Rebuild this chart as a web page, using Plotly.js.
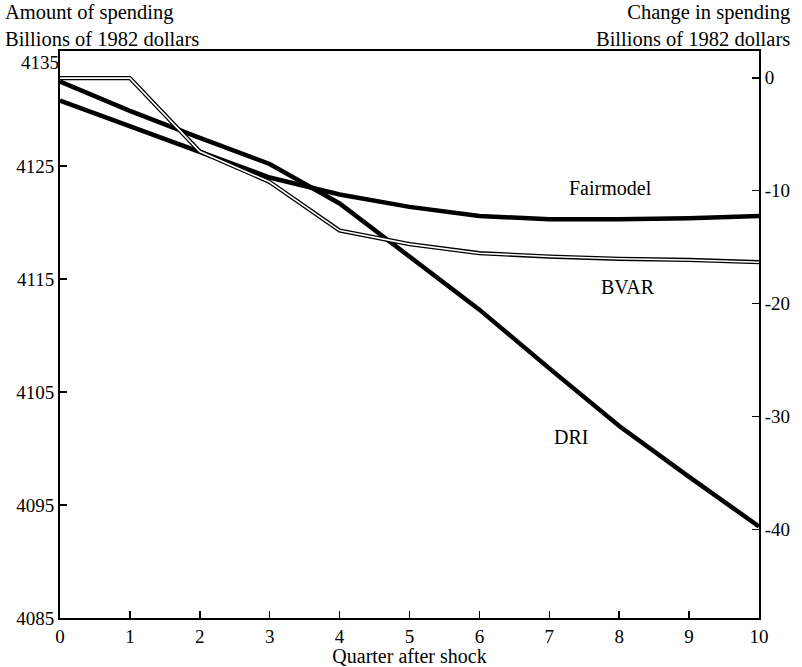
<!DOCTYPE html>
<html>
<head>
<meta charset="utf-8">
<script src="https://cdn.plot.ly/plotly-3.0.1.min.js"></script>
<style>html,body{margin:0;padding:0;background:#fff;}#chart{width:802px;height:667px;}</style>
</head>
<body>
<div id="chart"></div>
<script>
const quarters = [0,1,2,3,4,5,6,7,8,9,10];
const fairmodel = [4130.8,4128.5,4126.2,4124.0,4122.5,4121.4,4120.6,4120.3,4120.3,4120.4,4120.6];
const bvar = [4132.8,4132.8,4126.3,4123.6,4119.3,4118.1,4117.3,4117.0,4116.8,4116.7,4116.5];
const dri = [4132.5,4129.9,4127.5,4125.2,4121.7,4117.0,4112.3,4107.1,4102.0,4097.5,4093.1];
const leftTicks = [4085,4095,4105,4115,4125];
const leftTopTick = [4135];
const rightTicks = [0,-10,-20,-30,-40];
const rightTickText = ['0','-10','-20','-30','-40'];
const xTicks = [0,1,2,3,4,5,6,7,8,9,10];
const seriesLabels = [
  {text:'Fairmodel', x:7.87, y:4123.1},
  {text:'BVAR', x:8.13, y:4114.3},
  {text:'DRI', x:7.31, y:4101.0}
];
const leftTitle = 'Amount of spending<br>Billions of 1982 dollars';
const rightTitle = 'Change in spending<br>Billions of 1982 dollars';
const xTitle = 'Quarter after shock';
const baseLevel = 4132.83;
const leftRange = [4085, 4135.2];

const serif = 'Liberation Serif, Times New Roman, serif';
const black = '#000';

const traces = [
  {x:quarters, y:fairmodel, mode:'lines', line:{color:black, width:4.5}, hoverinfo:'skip'},
  {x:quarters, y:dri, mode:'lines', line:{color:black, width:4.5}, hoverinfo:'skip'},
  {x:quarters, y:bvar, mode:'lines', line:{color:black, width:4.2}, hoverinfo:'skip'},
  {x:quarters, y:bvar, mode:'lines', line:{color:'#fff', width:1.6}, hoverinfo:'skip'},
  {x:[quarters[0]], y:[0], yaxis:'y2', mode:'markers', marker:{opacity:0}, hoverinfo:'skip'},
  {x:[quarters[0]], y:[leftTopTick[0]], yaxis:'y3', mode:'markers', marker:{opacity:0}, hoverinfo:'skip'}
];

const ann = seriesLabels.map(s => ({
  text:s.text, x:s.x, y:s.y, xref:'x', yref:'y', showarrow:false,
  font:{family:serif, size:20, color:black}
}));
ann.push(
  {text:leftTitle, xref:'paper', yref:'paper', x:-0.0815, y:0.999, xanchor:'left', yanchor:'bottom', align:'left', showarrow:false, font:{family:serif, size:20.5, color:black}},
  {text:rightTitle, xref:'paper', yref:'paper', x:1.0472, y:0.999, xanchor:'right', yanchor:'bottom', align:'right', showarrow:false, font:{family:serif, size:20.5, color:black}}
);

const axisCommon = {
  ticks:'inside', ticklen:7, tickwidth:1.5, tickcolor:black,
  showgrid:false, zeroline:false,
  tickfont:{family:serif, size:19, color:black}
};

const layout = {
  width:802, height:667,
  margin:{l:60, r:43, t:51, b:49},
  paper_bgcolor:'#fff', plot_bgcolor:'#fff',
  showlegend:false,
  font:{family:serif, size:20, color:black},
  xaxis:Object.assign({}, axisCommon, {
    range:[0,10], tickvals:xTicks, ticktext:xTicks.map(String),
    showline:true, linecolor:black, linewidth:2, mirror:true,
    title:{text:xTitle, font:{family:serif, size:20, color:black}, standoff:4}
  }),
  yaxis:Object.assign({}, axisCommon, {
    range:leftRange, tickvals:leftTicks, ticktext:leftTicks.map(String),
    showline:true, linecolor:black, linewidth:2
  }),
  yaxis3:Object.assign({}, axisCommon, {
    overlaying:'y', side:'left', anchor:'x',
    range:leftRange, tickvals:leftTopTick, ticktext:leftTopTick.map(String),
    ticks:'', showline:false, ticklabelshift:9
  }),
  yaxis2:Object.assign({}, axisCommon, {
    overlaying:'y', side:'right',
    range:[leftRange[0]-baseLevel, leftRange[1]-baseLevel],
    tickvals:rightTicks, ticktext:rightTickText,
    showline:true, linecolor:black, linewidth:2
  }),
  annotations:ann
};

Plotly.newPlot('chart', traces, layout, {staticPlot:true, displayModeBar:false});
</script>
</body>
</html>
